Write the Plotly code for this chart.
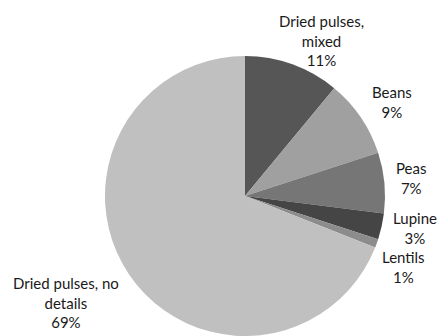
import plotly.graph_objects as go

# Pulse categories and their shares (%)
categories = ["Dried pulses,<br>mixed", "Beans", "Peas", "Lupine", "Lentils",
              "Dried pulses, no<br>details"]
shares = [11, 9, 7, 3, 1, 69]
slice_colors = ["#565656", "#a0a0a0", "#767676", "#454545", "#8c8c8c", "#c0c0c0"]

# Label anchor points (paper fractions) for each category
label_x = [0.730, 0.889, 0.932, 0.942, 0.914, 0.150]
label_y = [0.879, 0.696, 0.471, 0.322, 0.205, 0.101]

W, H = 441, 336

fig = go.Figure(
    go.Pie(
        labels=[c.replace("<br>", " ") for c in categories],
        values=shares,
        sort=False,
        direction="clockwise",
        rotation=0,
        textinfo="none",
        hoverinfo="label+percent",
        marker=dict(colors=slice_colors, line=dict(width=0)),
        domain=dict(x=[105 / W, 385 / W], y=[0, 280 / H]),
        showlegend=False,
    )
)

for cat, val, x, y in zip(categories, shares, label_x, label_y):
    fig.add_annotation(
        x=x, y=y, xref="paper", yref="paper",
        text=f"{cat}<br>{val}%",
        showarrow=False, xanchor="center", yanchor="middle",
        align="center",
        font=dict(family="Lato", size=15, color="#1a1a1a"),
    )

fig.update_layout(
    width=W, height=H,
    margin=dict(l=0, r=0, t=0, b=0),
    paper_bgcolor="white",
    plot_bgcolor="white",
)

fig.write_html("out.html")
